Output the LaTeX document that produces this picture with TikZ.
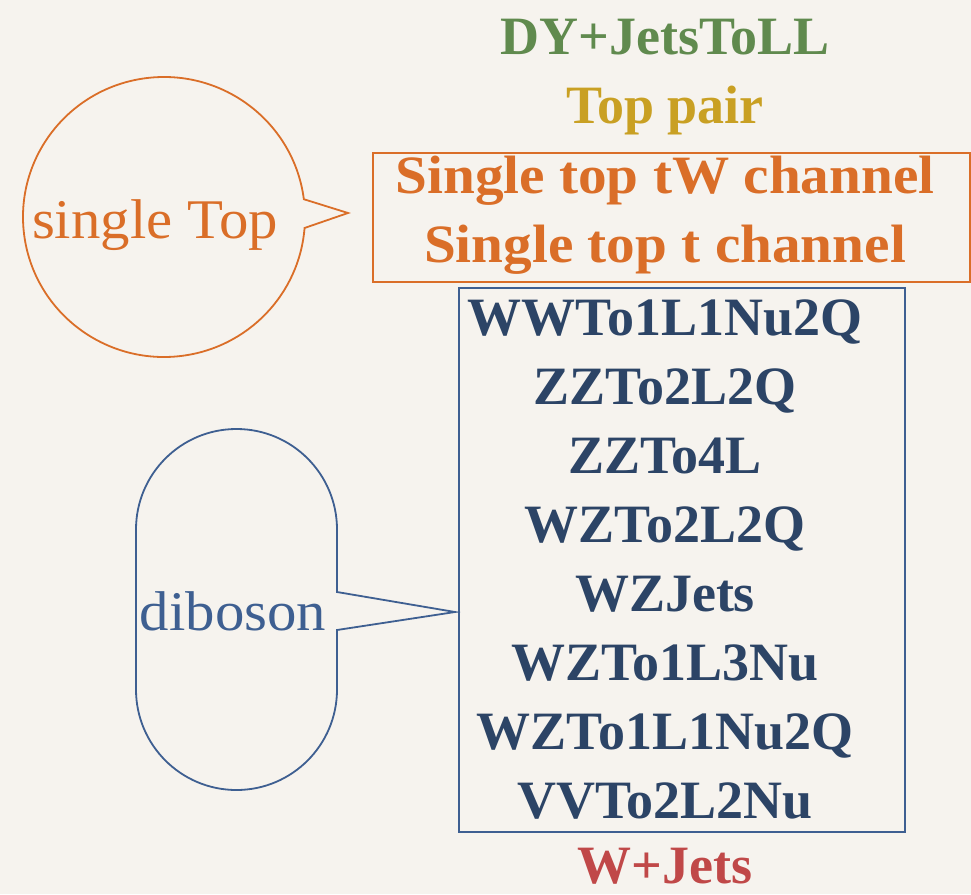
\documentclass[tikz,border=0pt]{standalone}
\usepackage{fontspec}
\setmainfont{Liberation Serif}
\newfontfamily\widefont{Liberation Serif}[FakeStretch=1.06]
\newfontfamily\callfont{Liberation Serif}[FakeStretch=1.05]
\usetikzlibrary{calc}
\definecolor{bg}{RGB}{246,243,238}
\definecolor{cgreen}{RGB}{96,138,78}
\definecolor{cgold}{RGB}{201,160,35}
\definecolor{corange}{RGB}{218,110,40}
\definecolor{cblue}{RGB}{62,95,145}
\definecolor{cbluetext}{RGB}{44,68,102}
\definecolor{cred}{RGB}{192,72,72}
\tikzset{
  label/.style={anchor=base, inner sep=0pt, font=\fontsize{54}{60}\selectfont\bfseries},
  widelabel/.style={anchor=base, inner sep=0pt, font=\widefont\fontsize{54}{60}\selectfont\bfseries},
  calltext/.style={anchor=base, inner sep=0pt, font=\callfont\fontsize{56}{60}\selectfont},
  outline/.style={line width=1.8pt},
}
\begin{document}
\begin{tikzpicture}[x=1pt,y=1pt]
\useasboundingbox[fill=bg] (0,0) rectangle (971,-894);
% top labels
\node[label, text=cgreen] (dy) at (665,-54) {DY+JetsToLL};
\node[label, text=cgold] (tt) at (665,-123) {Top pair};
% single top box
\node[widelabel, text=corange] (st1) at (665,-193) {Single top tW channel};
\node[widelabel, text=corange] (st2) at (665,-262) {Single top t channel};
\coordinate (stbox-nw) at (373,-153);
\coordinate (stbox-se) at (970,-282);
\draw[outline, corange] (stbox-nw) rectangle (stbox-se);
% single Top callout
\coordinate (stc) at (164,-217);
\coordinate (sttip) at (348,-213);
\node[calltext, text=corange] (stl) at (155,-238) {single Top};
\draw[outline, corange] ($(stc)+(7.3:141 and 140)$)
  arc[start angle=7.3, end angle=355.5, x radius=141, y radius=140]
  -- (sttip) -- cycle;
% diboson box
\coordinate (dbbox-nw) at (459,-288);
\coordinate (dbbox-se) at (905,-832);
\draw[outline, cblue] (dbbox-nw) rectangle (dbbox-se);
\node[label, text=cbluetext] (d1) at (665,-335) {WWTo1L1Nu2Q};
\node[label, text=cbluetext] (d2) at (665,-404) {ZZTo2L2Q};
\node[label, text=cbluetext] (d3) at (665,-473) {ZZTo4L};
\node[label, text=cbluetext] (d4) at (665,-542) {WZTo2L2Q};
\node[label, text=cbluetext] (d5) at (665,-611) {WZJets};
\node[label, text=cbluetext] (d6) at (665,-680) {WZTo1L3Nu};
\node[label, text=cbluetext] (d7) at (665,-749) {WZTo1L1Nu2Q};
\node[label, text=cbluetext] (d8) at (665,-818) {VVTo2L2Nu};
% diboson callout
\coordinate (dbtip) at (455,-612);
\node[calltext, text=cblue] (dbl) at (233,-630) {diboson};
\draw[outline, cblue] (337,-592) -- (337,-529.5)
  arc[start angle=0, end angle=180, radius=100.5]
  -- (136,-689.5)
  arc[start angle=180, end angle=360, radius=100.5]
  -- (337,-630) -- (dbtip) -- cycle;
% W+Jets
\node[label, text=cred] (wj) at (665,-883) {W+Jets};
\end{tikzpicture}
\end{document}
